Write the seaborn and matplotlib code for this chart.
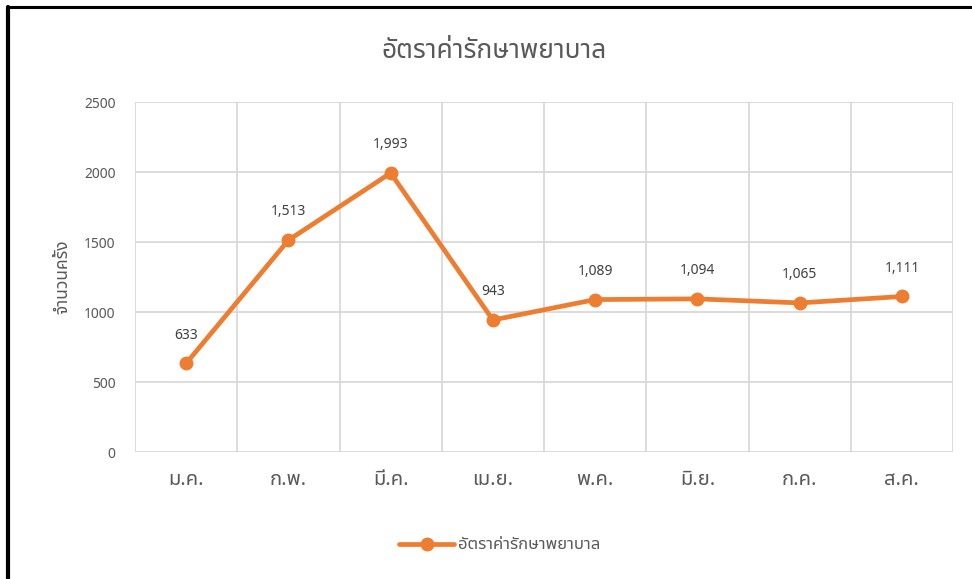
import matplotlib
matplotlib.use("Agg")
import matplotlib.pyplot as plt
from matplotlib.lines import Line2D
import seaborn as sns
import pandas as pd

months = ["ม.ค.", "ก.พ.", "มี.ค.", "เม.ย.", "พ.ค.", "มิ.ย.", "ก.ค.", "ส.ค."]
visits = [633, 1513, 1993, 943, 1089, 1094, 1065, 1111]
title = "อัตราค่ารักษาพยาบาล"
ylabel = "จำนวนครั้ง"

sns.set_style("white")
plt.rcParams["font.family"] = ["Noto Sans Thai", "Noto Sans", "DejaVu Sans"]

df = pd.DataFrame({"month": months, "visits": visits})

fig = plt.figure(figsize=(9.72, 5.79), dpi=100)
ax = fig.add_axes([0.1389, 0.2193, 0.8416, 0.6045])

orange = "#ED7D31"
grid = "#D9D9D9"
text = "#595959"

sns.lineplot(data=df, x="month", y="visits", ax=ax, color=orange, lw=3.4,
             marker="o", markersize=10, markeredgewidth=0, sort=False,
             label=title, legend=False)

ax.set_xlim(-0.5, len(months) - 0.5)
ax.set_ylim(0, 2500)
ax.set_yticks(range(0, 2501, 500))
# vertical gridlines sit between the categories, like Excel
for x in [i - 0.5 for i in range(len(months) + 1)]:
    ax.axvline(x, color=grid, lw=1.3, zorder=0)
for y in range(0, 2501, 500):
    ax.axhline(y, color=grid, lw=1.3, zorder=0)
for s in ax.spines.values():
    s.set_visible(False)

ax.tick_params(axis="both", length=0, colors=text)
ax.tick_params(axis="x", labelsize=14.5, pad=13)
ax.tick_params(axis="y", labelsize=10, pad=14)
ax.set_xlabel("")
ax.set_ylabel(ylabel, color=text, fontsize=12.5, labelpad=9)

for i, v in enumerate(visits):
    ax.annotate(f"{v:,}", (i, v), xytext=(0, 15), textcoords="offset points",
                ha="center", va="bottom", fontsize=10, color="#404040")

fig.text(0.508, 0.912, title, ha="center", va="center", fontsize=19,
         color=text)

handles, labels = ax.get_legend_handles_labels()
fig.legend(handles, labels, loc="center", bbox_to_anchor=(0.514, 0.058),
           frameon=False, fontsize=12, labelcolor=text, handlelength=3.3,
           handletextpad=0.2)

# black frame on the left and top edges
fig.add_artist(Line2D([0.0082, 1], [0.9878, 0.9878], color="black", lw=2.2))
fig.add_artist(Line2D([0.0082, 0.0082], [0, 0.9878], color="black", lw=3))

fig.savefig("out.png", dpi=100)
